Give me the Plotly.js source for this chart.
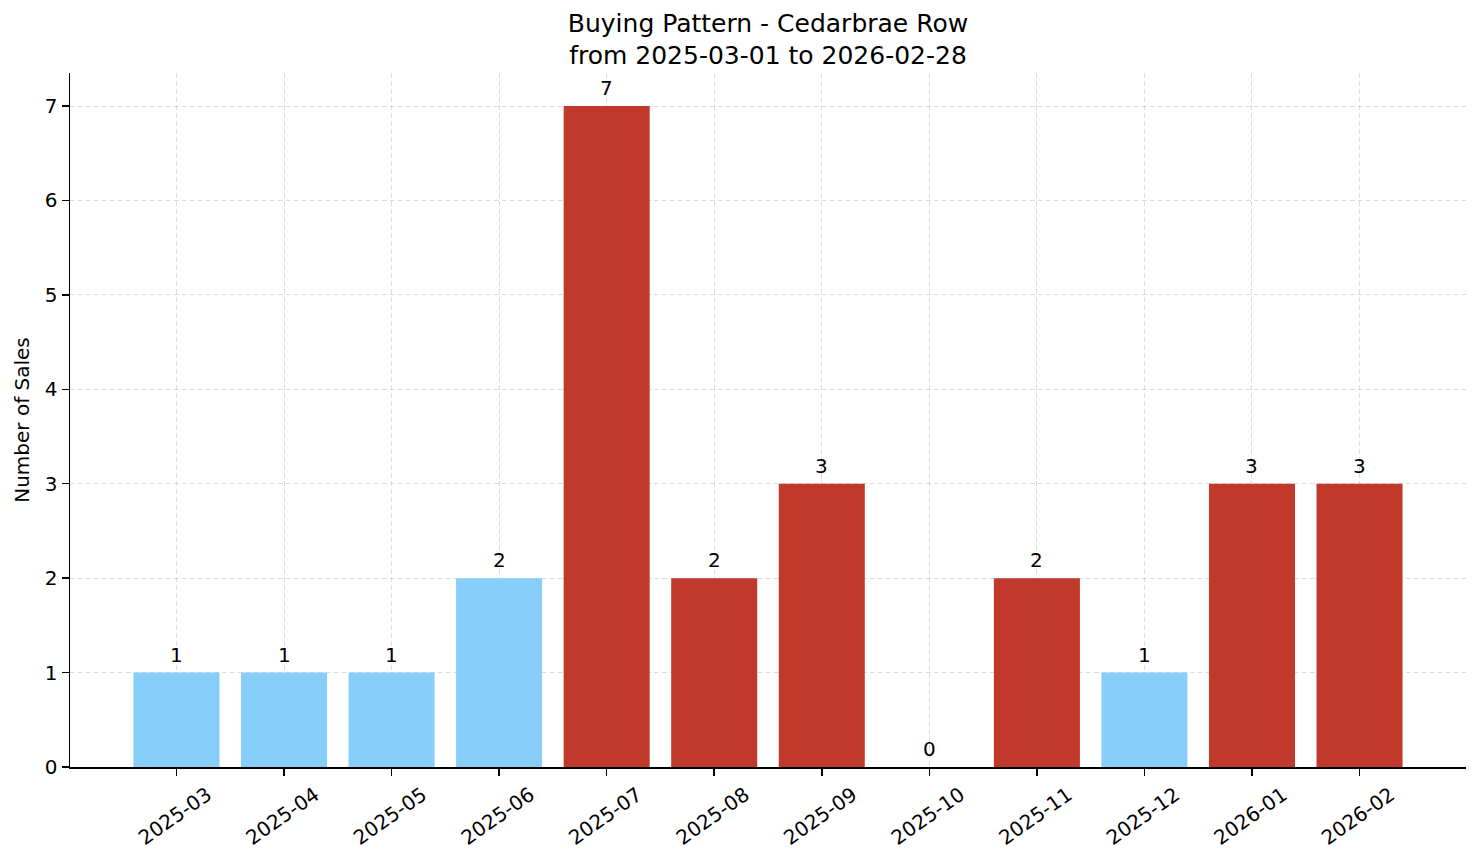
<!DOCTYPE html>
<html><head><meta charset="utf-8">
<script src="https://cdn.plot.ly/plotly-3.0.1.min.js"></script>
<style>html,body{margin:0;padding:0;background:#fff}#chart{width:1481px;height:863px}</style>
</head><body><div id="chart"></div>
<script>
const months = ["2025-03","2025-04","2025-05","2025-06","2025-07","2025-08","2025-09","2025-10","2025-11","2025-12","2026-01","2026-02"];
const sales = [1,1,1,2,7,2,3,0,2,1,3,3];
const barColors = ["#87CEFA","#87CEFA","#87CEFA","#87CEFA","#C0392B","#C0392B","#C0392B","#C0392B","#C0392B","#87CEFA","#C0392B","#C0392B"];
const yTicks = [0,1,2,3,4,5,6,7];

const font = "DejaVu Sans, sans-serif";
const trace = {
  type: "bar", x: months, y: sales,
  marker: {color: barColors, line: {width: 0}},
  width: 0.8, hoverinfo: "skip"
};
const annotations = months.map((m, i) => ({
  x: m, y: sales[i], xref: "x", yref: "y", text: String(sales[i]),
  showarrow: false, yanchor: "bottom", yshift: 4,
  font: {family: font, size: 20, color: "#000"}
}));
const layout = {
  width: 1481, height: 863,
  margin: {l: 70, r: 15, t: 73, b: 96},
  paper_bgcolor: "#fff", plot_bgcolor: "#fff",
  font: {family: font, size: 20, color: "#000"},
  title: {text: "Buying Pattern - Cedarbrae Row<br>from 2025-03-01 to 2026-02-28", x: 0.5, xanchor: "center", xref: "paper", yref: "container", y: 0.963, yanchor: "middle", font: {family: font, size: 25}},
  showlegend: false,
  bargap: 0.2,
  xaxis: {
    type: "category", range: [-0.99, 11.99],
    tickangle: -35, ticklabelshift: 31, ticks: "outside", ticklen: 7, tickwidth: 1.5, tickcolor: "#000",
    showline: true, linecolor: "#000", linewidth: 1.5,
    showgrid: true, gridcolor: "rgba(176,176,176,0.55)", griddash: "5px,3px", gridwidth: 0.8,
    tickfont: {family: font, size: 20}, zeroline: false
  },
  yaxis: {
    range: [0, 7.35], tickvals: yTicks, ticktext: yTicks.map(String),
    ticks: "outside", ticklen: 7, tickwidth: 1.5, tickcolor: "#000",
    showline: true, linecolor: "#000", linewidth: 1.5,
    showgrid: true, gridcolor: "rgba(176,176,176,0.55)", griddash: "5px,3px", gridwidth: 0.8,
    zeroline: false, tickfont: {family: font, size: 20},
    title: {text: "Number of Sales", font: {family: font, size: 20}, standoff: 10}
  },
  annotations: annotations
};
Plotly.newPlot("chart", [trace], layout, {displayModeBar: false, staticPlot: true});
</script></body></html>
